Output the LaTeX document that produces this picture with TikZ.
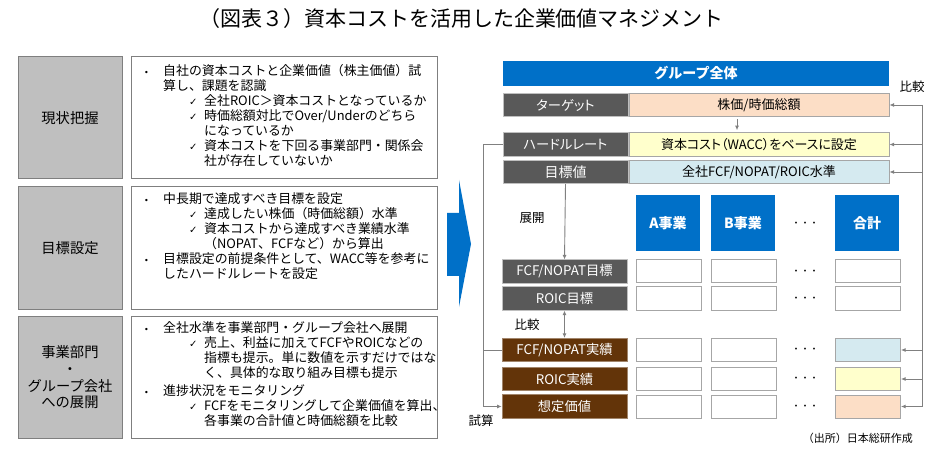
\documentclass[tikz,border=0pt]{standalone}
\usepackage{fontspec}
\setmainfont{Noto Sans CJK JP}
\newfontfamily\pfont{Noto Sans CJK JP}[RawFeature=+palt]
\newfontfamily\djv{DejaVu Sans}
\usetikzlibrary{arrows.meta,calc}
\definecolor{cbf}{HTML}{BFBFBF}
\definecolor{c7f}{HTML}{7F7F7F}
\definecolor{ca6}{HTML}{A6A6A6}
\definecolor{c80}{HTML}{808080}
\definecolor{dk}{HTML}{595959}
\definecolor{brn}{HTML}{633409}
\definecolor{blu}{HTML}{0070C8}
\definecolor{peach}{HTML}{FCDEC6}
\definecolor{ylw}{HTML}{FFFFCC}
\definecolor{lblue}{HTML}{D5EAF0}
\newcommand\mybu{\makebox[19pt][l]{\djv\fontsize{8}{8}\selectfont •}}
\newcommand\mychk{\hspace*{45pt}\makebox[15pt][l]{\djv\fontsize{10}{10}\selectfont ✓}}
\newcommand\myin[1]{\hspace*{#1}}
\tikzset{
  gbox/.style={draw=c7f, fill=cbf, line width=1pt, minimum width=104pt, minimum height=122pt, inner sep=0, align=center, font=\fontsize{14.3}{16.7}\selectfont},
  tbox/.style={draw=c7f, fill=white, line width=1pt, minimum width=306pt, minimum height=122pt, inner sep=0},
  txt/.style={align=left, inner sep=0, anchor=north west, font=\fontsize{12.9}{15}\selectfont},
  dlab/.style={fill=dk, draw=cbf, line width=0.6pt, text=white, minimum width=125pt, minimum height=23.5pt, inner sep=0, font=\pfont\fontsize{13.3}{15}\selectfont},
  blab/.style={dlab, fill=brn, draw=brn!60!white},
  vbox/.style={draw=ca6, line width=1pt, minimum width=260pt, minimum height=23.5pt, inner sep=0, font=\pfont\fontsize{13}{15}\selectfont},
  wbox/.style={draw=ca6, fill=white, line width=1pt, minimum width=65pt, minimum height=23pt, inner sep=0},
  hbox/.style={fill=blu, text=white, minimum width=64pt, minimum height=56pt, inner sep=0, font=\bfseries\fontsize{14}{16}\selectfont},
  dotsn/.style={inner sep=0, font=\fontsize{9}{10}\selectfont},
  lbl/.style={inner sep=0, font=\fontsize{12.5}{14}\selectfont},
  con/.style={draw=c80, line width=0.9pt},
  arr/.style={con, -{Latex[length=4.5pt,width=4pt]}},
}
\begin{document}
\begin{tikzpicture}[x=1pt,y=-1pt]
\useasboundingbox (0,0) rectangle (951,457);
\fill[white] (0,0) rectangle (951,457);
% title
\node[inner sep=0, font=\fontsize{21}{23}\selectfont] (title) at (461.5,19) {（図表３）資本コストを活用した企業価値マネジメント};
% left column
\node[gbox] (g1) at (70,118) {現状把握};
\node[tbox] (t1) at (284,118) {};
\node[txt] (x1) at (144,64) {\mybu 自社の資本コストと企業価値（株主価値）試\\
\myin{19pt}算し、課題を認識\\
\mychk 全社ROIC＞資本コストとなっているか\\
\mychk 時価総額対比でOver/Underのどちら\\
\myin{60pt}になっているか\\
\mychk 資本コストを下回る事業部門・関係会\\
\myin{60pt}社が存在していないか};
\node[gbox] (g2) at (70,248) {目標設定};
\node[tbox] (t2) at (284,248) {};
\node[txt] (x2) at (144,192.5) {\mybu 中長期で達成すべき目標を設定\\
\mychk 達成したい株価（時価総額）水準\\
\mychk 資本コストから達成すべき業績水準\\
\myin{60pt}（NOPAT、FCFなど）から算出\\
\mybu 目標設定の前提条件として、WACC等を参考に\\
\myin{19pt}したハードルレートを設定};
\node[gbox] (g3) at (70,377.5) {事業部門\\・\\グループ会社\\への展開};
\node[tbox] (t3) at (284,377.5) {};
\node[txt] (x3) at (144,321.5) {\mybu 全社水準を事業部門・グループ会社へ展開\\
\mychk 売上、利益に加えてFCFやROICなどの\\
\myin{60pt}指標も提示。単に数値を示すだけではな\\
\myin{60pt}く、具体的な取り組み目標も提示\\[3pt]
\mybu 進捗状況をモニタリング\\
\mychk FCFをモニタリングして企業価値を算出、\\
\myin{60pt}各事業の合計値と時価総額を比較};
% big arrow
\fill[blu] (447,213) -- (459,213) -- (459,180) -- (471,244) -- (459,307) -- (459,276) -- (447,276) -- cycle;
% right: group level
\node[hbox, minimum width=386pt, minimum height=25pt] (hdr) at (696,73.5) {グループ全体};
\node[dlab] (tl) at (565.5,105) {ターゲット};
\node[vbox, fill=peach] (tv) at (759,105) {株価/時価総額};
\node[dlab] (hl) at (565.5,144.5) {ハードルレート};
\node[vbox, fill=ylw] (hv) at (759,144.5) {資本コスト（WACC）をベースに設定};
\node[dlab, font=\pfont\fontsize{14}{16}\selectfont] (gl) at (565.5,172) {目標値};
\node[vbox, fill=lblue] (gv) at (759,172) {全社FCF/NOPAT/ROIC水準};
% column headers
\node[hbox] (ha) at (668,223) {A事業};
\node[hbox] (hb) at (743,223) {B事業};
\node[dotsn] (d0) at (805,224) {・・・};
\node[hbox] (ht) at (867,223) {合計};
% target rows
\node[dlab] (f1) at (564.5,271.5) {FCF/NOPAT目標};
\node[wbox] (a1) at (668.5,271.5) {};
\node[wbox] (b1) at (743.5,271.5) {};
\node[dotsn] (d1) at (805,272) {・・・};
\node[wbox] (s1) at (868,271.5) {};
\node[dlab] (r1) at (564.5,298.5) {ROIC目標};
\node[wbox] (a2) at (668.5,298.5) {};
\node[wbox] (b2) at (743.5,298.5) {};
\node[dotsn] (d2) at (805,299) {・・・};
\node[wbox] (s2) at (868,298.5) {};
% actual rows
\node[blab] (fa) at (564.5,350) {FCF/NOPAT実績};
\node[wbox] (a3) at (668.5,350) {};
\node[wbox] (b3) at (743.5,350) {};
\node[dotsn] (d3) at (805,350) {・・・};
\node[wbox, fill=lblue] (c1) at (868,350) {};
\node[blab] (ra) at (564.5,379) {ROIC実績};
\node[wbox] (a4) at (668.5,379) {};
\node[wbox] (b4) at (743.5,379) {};
\node[dotsn] (d4) at (805,379) {・・・};
\node[wbox, fill=ylw] (c2) at (868,379) {};
\node[blab] (sl) at (564.5,406.5) {想定価値};
\node[wbox] (a5) at (668.5,406.5) {};
\node[wbox] (b5) at (743.5,406.5) {};
\node[dotsn] (d5) at (805,407) {・・・};
\node[wbox, fill=peach] (c3) at (868,406.5) {};
% labels
\node[lbl] (k1) at (912,87) {比較};
\node[lbl] (k2) at (532,218) {展開};
\node[lbl] (k3) at (527,325) {比較};
\node[lbl] (k4) at (481,421) {試算};
\node[inner sep=0, anchor=east, font=\fontsize{11}{13}\selectfont] (src) at (913,438) {（出所）日本総研作成};
% connectors
\coordinate (ax) at (737,0);
\coordinate (rx) at (922,0);
\coordinate (lx) at (483,0);
\draw[arr, shorten <=2pt, shorten >=2pt] (tv.south -| ax) -- (hv.north -| ax);
\draw[con] (tv.east -| rx) -- (c3.east -| rx);
\foreach \n in {tv,hv,gv,c1,c2,c3} \draw[arr] (\n.east -| rx) -- (\n.east);
\draw[con] (hl.west) -- (hl.west -| lx) -- (sl.west -| lx);
\draw[arr] (sl.west -| lx) -- (sl.west);
\draw[con] (fa.west -| lx) -- (fa.west);
\draw[arr] (gl.south) -- (f1.north);
\draw[con, {Latex[length=4.5pt,width=4pt]}-{Latex[length=4.5pt,width=4pt]}] (r1.south) -- (fa.north);
\end{tikzpicture}
\end{document}
